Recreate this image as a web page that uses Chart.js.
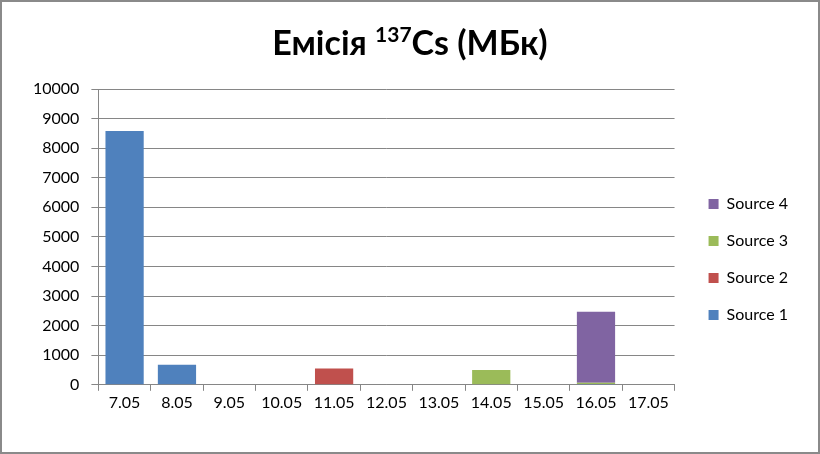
<!DOCTYPE html>
<html>
<head>
<meta charset="utf-8">
<script src="https://cdn.jsdelivr.net/npm/chart.js@4.4.1/dist/chart.umd.min.js"></script>
<style>
  html, body { margin: 0; padding: 0; background: #fff; }
  #frame {
    width: 820px; height: 454px; box-sizing: border-box;
    border: 2px solid #8a8a8a; background: #fff;
  }
  #wrap { width: 816px; height: 450px; position: relative; }
</style>
</head>
<body>
<div id="frame"><div id="wrap"><canvas id="chart"></canvas></div></div>
<script>
// Emission of Cs-137 per day, MBq
const days = ["7.05", "8.05", "9.05", "10.05", "11.05", "12.05", "13.05", "14.05", "15.05", "16.05", "17.05"];
const source1 = [8580, 680, 0, 0, 0, 0, 0, 0, 0, 30, 0];
const source2 = [0, 0, 0, 0, 550, 0, 0, 0, 0, 0, 0];
const source3 = [0, 0, 0, 0, 0, 0, 0, 500, 0, 40, 0];
const source4 = [0, 0, 0, 0, 0, 0, 0, 0, 0, 2400, 0];
const yTicks = [0, 1000, 2000, 3000, 4000, 5000, 6000, 7000, 8000, 9000, 10000];

const FONT = "Lato";
const GRID = "#868686";

// title with a real superscript mass number
const titlePlugin = {
  id: "supTitle",
  afterDraw(chart) {
    const ctx = chart.ctx;
    const parts = [
      { t: "Емісія ", size: 34, rise: 0 },
      { t: "137", size: 21, rise: 13 },
      { t: "Cs (МБк)", size: 34, rise: 0 },
    ];
    ctx.save();
    ctx.fillStyle = "#000";
    ctx.textBaseline = "alphabetic";
    let total = 0;
    parts.forEach((p) => {
      ctx.font = `bold ${p.size}px ${FONT}`;
      p.w = ctx.measureText(p.t).width;
      total += p.w;
    });
    let x = chart.width / 2 - total / 2;
    const base = 53;
    parts.forEach((p) => {
      ctx.font = `bold ${p.size}px ${FONT}`;
      ctx.fillText(p.t, x, base - p.rise);
      x += p.w;
    });
    ctx.restore();
  },
};

const mk = (label, data, color) => ({
  label, data, backgroundColor: color, borderWidth: 0,
  barPercentage: 0.73, categoryPercentage: 1.0,
});

new Chart(document.getElementById("chart"), {
  type: "bar",
  data: {
    labels: days,
    datasets: [
      mk("Source 1", source1, "#4F81BD"),
      mk("Source 2", source2, "#C0504D"),
      mk("Source 3", source3, "#9BBB59"),
      mk("Source 4", source4, "#8064A2"),
    ],
  },
  options: {
    responsive: true,
    maintainAspectRatio: false,
    animation: false,
    layout: { padding: { top: 87, left: 19, right: 20, bottom: 38 } },
    plugins: {
      title: { display: false },
      tooltip: { enabled: false },
      legend: {
        position: "right",
        reverse: true,
        // empty title only nudges the items down a little
        title: { display: true, text: "", font: { size: 1, lineHeight: 1 }, padding: { top: 15, bottom: 0 } },
        labels: {
          boxWidth: 10, boxHeight: 10, padding: 21,
          color: "#000", font: { family: FONT, size: 16 },
        },
      },
    },
    scales: {
      x: {
        stacked: true,
        grid: { offset: true, drawOnChartArea: false, color: GRID, tickLength: 6 },
        border: { color: GRID },
        ticks: { color: "#000", padding: 2, font: { family: FONT, size: 16 } },
      },
      y: {
        stacked: true,
        min: 0, max: 10000,
        afterBuildTicks: (axis) => { axis.ticks = yTicks.map((v) => ({ value: v })); },
        grid: { color: GRID, tickLength: 7 },
        border: { color: GRID },
        ticks: {
          color: "#000", padding: 12, font: { family: FONT, size: 16 },
          callback: (v) => String(v),
        },
      },
      // empty spacer between plot and legend
      gap: {
        type: "linear", position: "right", display: true,
        grid: { display: false }, ticks: { display: false }, border: { display: false },
        afterFit: (s) => { s.width = 13; },
      },
    },
  },
  plugins: [titlePlugin],
});
</script>
</body>
</html>
